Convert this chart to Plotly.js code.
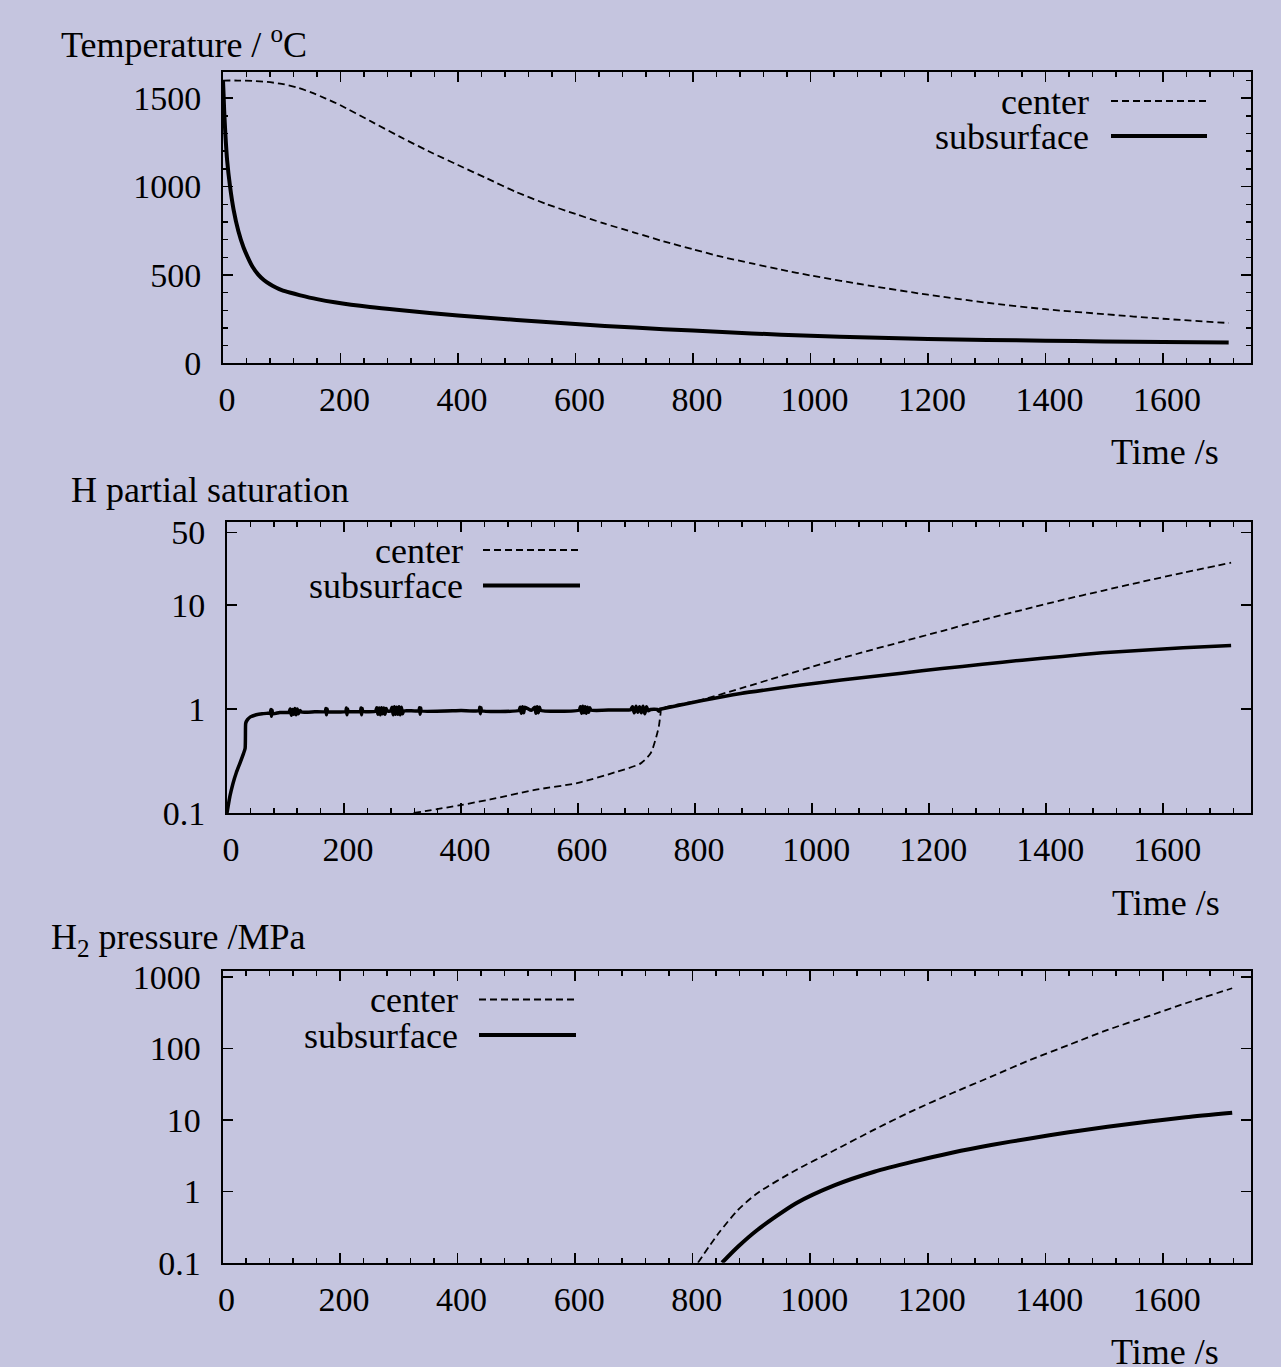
<!DOCTYPE html>
<html>
<head>
<meta charset="utf-8">
<script src="https://cdn.plot.ly/plotly-3.0.1.min.js"></script>
<style>
html,body{margin:0;padding:0;background:#c5c5df;}
#chart{width:1281px;height:1367px;}
</style>
</head>
<body>
<div id="chart"></div>
<script>
// ---------- DATA ----------
// Panel 1: Temperature / °C
const tempCenterTime = [0,25,50,75,100,125,150,175,200,250,300,350,400,450,500,550,600,650,700,750,800,850,900,950,1000,1100,1200,1300,1400,1500,1600,1712];
const tempCenter     = [1600,1600,1598,1592,1581,1562,1533,1498,1460,1372,1284,1200,1122,1045,968,902,845,790,740,690,645,602,565,530,497,440,388,343,306,278,252,228];
const tempSubTime = [0,1,2,4,7,12,18,26,35,45,50,60,70,80,90,100,115,130,160,190,250,300,400,500,600,700,800,900,1000,1100,1200,1300,1400,1500,1600,1712];
const tempSub     = [1600,1520,1430,1300,1150,1000,870,750,655,580,548,502,470,447,429,414,399,386,363,345,318,301,271,245,222,202,185,169,156,146,138,132,128,124,121,118];

// Panel 2: H partial saturation
const satCenterTime = [319,399,450,524,600,667,707,724,732,738,741,742,810,878,947,1016,1084,1153,1222,1291,1359,1428,1496,1565,1634,1716];
const satCenter     = [0.1,0.119,0.135,0.166,0.195,0.25,0.30,0.375,0.50,0.68,0.91,1.0,1.22,1.58,2.07,2.71,3.48,4.43,5.62,7.18,8.96,11.2,13.7,16.8,20.4,25.5];
const satSubTime = [0,5,10,16,22,28,31,31.5,32,35,40,50,60,70,74,75,76,77,78,90,106,108,110,112,114,116,118,120,122,125,127,150,168,169,170,171,172,203,204,205,206,207,228,229,230,231,232,254,256,258,260,262,264,266,268,270,272,274,280,282,284,286,288,290,292,294,296,298,300,302,328,329,330,331,332,400,431,432,433,434,435,499,501,503,505,507,509,520,526,528,530,532,534,536,602,604,606,608,610,612,614,616,618,620,622,660,690,693,696,699,702,705,708,711,714,717,720,724,735,738,740,742,810,878,947,1016,1084,1153,1222,1291,1359,1428,1496,1565,1634,1716];
const satSub     = [0.1,0.145,0.19,0.245,0.30,0.37,0.42,0.55,0.73,0.79,0.84,0.88,0.90,0.91,0.915,0.99,0.85,0.98,0.90,0.925,0.93,1.0,0.87,0.99,0.89,1.01,0.88,1.0,0.90,0.97,0.935,0.94,0.945,1.01,0.88,1.0,0.945,0.95,1.02,0.88,1.0,0.95,0.95,1.02,0.88,1.01,0.95,0.955,1.03,0.89,1.02,0.88,1.03,0.90,1.02,0.89,1.01,0.955,0.96,1.04,0.88,1.05,0.89,1.04,0.89,1.05,0.88,1.04,0.90,0.96,0.96,1.03,0.89,1.02,0.96,0.965,0.965,1.04,0.90,1.03,0.965,0.97,1.04,0.91,1.05,0.92,1.04,0.97,1.04,0.91,1.05,0.92,1.04,0.97,0.975,1.05,0.91,1.06,0.92,1.05,0.91,1.04,0.93,1.03,0.975,0.98,0.985,1.05,0.92,1.06,0.93,1.05,0.92,1.06,0.90,1.05,0.96,0.99,0.99,0.95,0.995,1.0,1.20,1.41,1.60,1.80,2.0,2.21,2.45,2.69,2.95,3.20,3.47,3.67,3.89,4.07];

// Panel 3: H2 pressure / MPa
const presCenterTime = [809,844,877,910,976,1042,1109,1175,1241,1308,1374,1440,1506,1573,1639,1718];
const presCenter     = [0.1,0.258,0.547,0.94,1.99,3.78,7.3,13.5,23.6,40.3,69,112,182,279,430,697];
const presSubTime = [850,877,910,976,1042,1109,1175,1241,1308,1374,1440,1506,1573,1639,1718];
const presSub     = [0.1,0.167,0.287,0.68,1.22,1.88,2.6,3.47,4.45,5.5,6.7,8.0,9.4,10.9,12.6];

const seriesNames = ['center','subsurface'];
const panelTitles = ['Temperature / <sup>o</sup>C','H partial saturation','H<sub>2</sub> pressure /MPa'];
const xTitle = 'Time /s';
const satTicks = [0.1,1,10,50];
const presTicks = [0.1,1,10,100,1000];

// ---------- LAYOUT HELPERS ----------
const W = 1281, H = 1367;
const px = v => v / W;
const py = v => 1 - v / H;
const FONT = 'Liberation Serif, Times New Roman, serif';
const BG = '#c5c5df';
const TXT = 36;

function xAx(anchor) {
  return {
    anchor: anchor, range: [0, 1750],
    tickmode: 'linear', tick0: 0, dtick: 200,
    ticks: 'inside', ticklen: 10, tickwidth: 1.5, tickcolor: '#000',
    showline: true, linewidth: 2, linecolor: '#000', mirror: 'allticks',
    showgrid: false, zeroline: false, automargin: false,
    minor: {ticks: 'inside', ticklen: 5, tickwidth: 1.5, tickcolor: '#000', tickmode: 'linear', tick0: 0, dtick: 40, showgrid: false},
    ticklabelstandoff: 5, ticklabelshift: 4,
    tickfont: {family: FONT, size: 34, color: '#000'}
  };
}
function yAx(anchor, extra) {
  return Object.assign({
    anchor: anchor,
    ticks: 'inside', ticklen: 10, tickwidth: 1.5, tickcolor: '#000',
    showline: true, linewidth: 2, linecolor: '#000', mirror: 'allticks',
    showgrid: false, zeroline: false, automargin: false,
    ticklabelstandoff: 13,
    tickfont: {family: FONT, size: 34, color: '#000'}
  }, extra);
}

const dashStyle = '7px,4px';
const cLine = {color: '#000', width: 1.8, dash: dashStyle, shape: 'spline', smoothing: 0.7};
const sLine = {color: '#000', width: 4, shape: 'spline', smoothing: 0.7};

const traces = [
  {x: tempCenterTime, y: tempCenter, xaxis: 'x', yaxis: 'y', mode: 'lines', line: cLine, name: seriesNames[0]},
  {x: tempSubTime, y: tempSub, xaxis: 'x', yaxis: 'y', mode: 'lines', line: sLine, name: seriesNames[1]},
  {x: satCenterTime, y: satCenter, xaxis: 'x2', yaxis: 'y2', mode: 'lines', line: cLine, name: seriesNames[0]},
  {x: satSubTime, y: satSub, xaxis: 'x2', yaxis: 'y2', mode: 'lines', line: {color: '#000', width: 3.5, shape: 'spline', smoothing: 0.5}, name: seriesNames[1]},
  {x: presCenterTime, y: presCenter, xaxis: 'x3', yaxis: 'y3', mode: 'lines', line: cLine, name: seriesNames[0]},
  {x: presSubTime, y: presSub, xaxis: 'x3', yaxis: 'y3', mode: 'lines', line: sLine, name: seriesNames[1]}
];

// legend positions (pixel) per panel: text right edge, line x0,x1, y rows
const legends = [
  {tx: 1091, lx0: 1111, lx1: 1207, yc: 101, ys: 136},
  {tx: 465, lx0: 483, lx1: 580, yc: 550, ys: 585.5},
  {tx: 460, lx0: 479, lx1: 576, yc: 999.5, ys: 1035}
];

const annotations = [];
const shapes = [];
function ann(text, x, y, xanchor) {
  annotations.push({text: text, x: px(x), y: py(y), xref: 'paper', yref: 'paper', xanchor: xanchor, yanchor: 'middle', showarrow: false, font: {family: FONT, size: TXT, color: '#000'}});
}
ann(panelTitles[0], 59, 43, 'left');
ann(panelTitles[1], 69, 490, 'left');
ann(panelTitles[2], 49, 939, 'left');
ann(xTitle, 1165, 452.5, 'center');
ann(xTitle, 1166, 902.5, 'center');
ann(xTitle, 1165, 1352, 'center');
legends.forEach(L => {
  ann(seriesNames[0], L.tx, L.yc + 0.5, 'right');
  ann(seriesNames[1], L.tx, L.ys + 0.5, 'right');
  shapes.push({type: 'line', xref: 'paper', yref: 'paper', x0: px(L.lx0), x1: px(L.lx1), y0: py(L.yc), y1: py(L.yc), line: {color: '#000', width: 1.8, dash: dashStyle}});
  shapes.push({type: 'line', xref: 'paper', yref: 'paper', x0: px(L.lx0), x1: px(L.lx1), y0: py(L.ys), y1: py(L.ys), line: {color: '#000', width: 4}});
});

const layout = {
  width: W, height: H, autosize: false,
  margin: {l: 0, r: 0, t: 0, b: 0, pad: 0},
  paper_bgcolor: BG, plot_bgcolor: BG,
  font: {family: FONT, size: 34, color: '#000'},
  showlegend: false,
  xaxis: xAx('y'),
  yaxis: yAx('x', {range: [0, 1650], tickmode: 'linear', tick0: 0, dtick: 500,
    minor: {ticks: 'inside', ticklen: 5, tickwidth: 1.5, tickcolor: '#000', tickmode: 'linear', tick0: 0, dtick: 100, showgrid: false}}),
  xaxis2: xAx('y2'),
  yaxis2: yAx('x2', {type: 'log', range: [-1, 1.801], tickmode: 'array', tickvals: satTicks, ticktext: satTicks.map(String)}),
  xaxis3: xAx('y3'),
  yaxis3: yAx('x3', {type: 'log', range: [-1, 3.085], tickmode: 'array', tickvals: presTicks, ticktext: presTicks.map(String)}),
  annotations: annotations,
  shapes: shapes
};
layout.xaxis.domain = [px(223), px(1251)];
layout.xaxis2.domain = [px(227), px(1251)];
layout.xaxis3.domain = [px(222.5), px(1251)];
layout.yaxis.domain = [py(363.3), py(71.7)];
layout.yaxis2.domain = [py(813), py(521.7)];
layout.yaxis3.domain = [py(1262.7), py(971)];

Plotly.newPlot('chart', traces, layout, {staticPlot: true, displayModeBar: false});
</script>
</body>
</html>
